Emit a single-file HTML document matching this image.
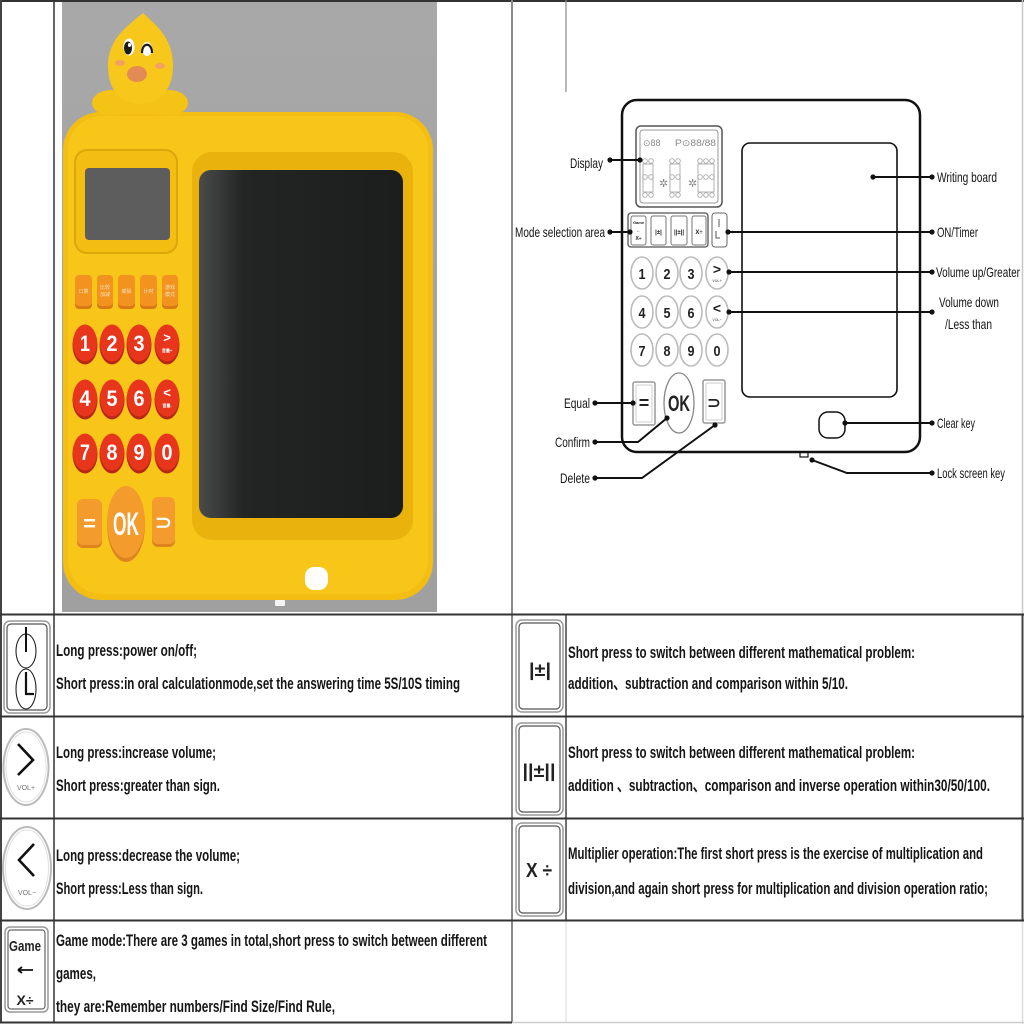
<!DOCTYPE html>
<html><head><meta charset="utf-8"><style>
html,body{margin:0;padding:0;background:#fff;}
svg{display:block}
.t{font-family:"Liberation Sans",sans-serif;font-weight:bold;font-size:17px;fill:#151515}
.l{font-family:"Liberation Sans",sans-serif;font-size:14px;fill:#151515}
.kw{font-family:"Liberation Sans",sans-serif;font-weight:bold;fill:#fff;text-anchor:middle}
.kb{font-family:"Liberation Sans",sans-serif;font-weight:bold;fill:#222;text-anchor:middle}
</style></head><body>
<svg width="1024" height="1024" viewBox="0 0 1024 1024" xmlns="http://www.w3.org/2000/svg">
<defs>
<linearGradient id="scr" x1="0" x2="1" y1="0" y2="0"><stop offset="0" stop-color="#4a4b4b"/><stop offset="0.22" stop-color="#232424"/><stop offset="1" stop-color="#1c1d1d"/></linearGradient>
<linearGradient id="bg" x1="0" x2="0" y1="0" y2="1"><stop offset="0" stop-color="#a8a8a8"/><stop offset="1" stop-color="#a0a0a0"/></linearGradient>
</defs>

<!-- ================= PRODUCT IMAGE ================= -->
<rect x="62" y="2" width="375" height="610" fill="url(#bg)"/>
<!-- body -->
<rect x="63" y="112" width="370" height="488" rx="38" fill="#f3bd12"/>
<rect x="68" y="116" width="360" height="478" rx="34" fill="#f7c619"/>
<!-- duck hands -->
<ellipse cx="111" cy="103" rx="19" ry="13" fill="#f5c216"/>
<ellipse cx="169" cy="103" rx="19" ry="13" fill="#f5c216"/>
<rect x="110" y="98" width="60" height="16" fill="#f5c216"/>
<!-- duck head -->
<path d="M143,13 C152,22 173,36 173,65 C173,92 158,104 140,104 C122,104 108,92 108,65 C108,38 130,24 143,13 Z" fill="#f7c71b"/>
<ellipse cx="129" cy="47" rx="5.5" ry="8.5" fill="#fff"/>
<ellipse cx="128" cy="48" rx="4" ry="6.5" fill="#1b1b1b"/>
<ellipse cx="129.5" cy="45" rx="1.6" ry="2" fill="#fff"/>
<ellipse cx="147" cy="49" rx="5" ry="7" fill="#fff"/>
<path d="M142,53 C142,42 152,42 152,53" fill="none" stroke="#1b1b1b" stroke-width="2.2"/>
<ellipse cx="120" cy="63" rx="5" ry="3" fill="#f0a262"/>
<ellipse cx="160" cy="66" rx="5" ry="3" fill="#f0a262"/>
<ellipse cx="137" cy="74" rx="10" ry="8" fill="#e48a55"/>

<!-- display bezel -->
<rect x="75" y="150" width="102" height="103" rx="12" fill="#f3bd12" stroke="#dca70c" stroke-width="2"/>
<rect x="85" y="168" width="85" height="72" rx="4" fill="#5d5d5d"/>

<!-- writing recess and screen -->
<rect x="192" y="152" width="221" height="388" rx="20" fill="#e9b20d"/>
<rect x="199" y="170" width="204" height="348" rx="12" fill="url(#scr)"/>

<!-- mode buttons -->
<g fill="#d97a17">
<rect x="75" y="277" width="17" height="32" rx="4"/>
<rect x="97" y="277" width="16" height="32" rx="4"/>
<rect x="118" y="277" width="17" height="32" rx="4"/>
<rect x="140" y="277" width="17" height="32" rx="4"/>
<rect x="162" y="277" width="16" height="32" rx="4"/>
</g>
<g fill="#f2921f">
<rect x="75" y="275" width="17" height="31" rx="4"/>
<rect x="97" y="275" width="16" height="31" rx="4"/>
<rect x="118" y="275" width="17" height="31" rx="4"/>
<rect x="140" y="275" width="17" height="31" rx="4"/>
<rect x="162" y="275" width="16" height="31" rx="4"/>
</g>
<g font-family="'Liberation Sans','Noto Sans CJK SC',sans-serif" font-size="5" fill="#fde2b8" text-anchor="middle">
<text x="83.5" y="293">口算</text>
<text x="105" y="289">比较</text><text x="105" y="296">加减</text>
<text x="126.5" y="293">乘除</text>
<text x="148.5" y="293">计时</text>
<text x="170" y="289">游戏</text><text x="170" y="296">模式</text>
</g>

<!-- number keys -->
<g fill="#b82713">
<ellipse cx="85" cy="345" rx="12.5" ry="19.5"/><ellipse cx="112" cy="345" rx="12.5" ry="19.5"/><ellipse cx="139" cy="345" rx="12.5" ry="19.5"/><ellipse cx="167" cy="345" rx="12.5" ry="19.5"/>
<ellipse cx="85" cy="400" rx="12.5" ry="19.5"/><ellipse cx="112" cy="400" rx="12.5" ry="19.5"/><ellipse cx="139" cy="400" rx="12.5" ry="19.5"/><ellipse cx="167" cy="400" rx="12.5" ry="19.5"/>
<ellipse cx="85" cy="454" rx="12.5" ry="19.5"/><ellipse cx="112" cy="454" rx="12.5" ry="19.5"/><ellipse cx="139" cy="454" rx="12.5" ry="19.5"/><ellipse cx="167" cy="454" rx="12.5" ry="19.5"/>
</g>
<g fill="#e8361d">
<ellipse cx="85" cy="343" rx="12" ry="18.5"/><ellipse cx="112" cy="343" rx="12" ry="18.5"/><ellipse cx="139" cy="343" rx="12" ry="18.5"/><ellipse cx="167" cy="343" rx="12" ry="18.5"/>
<ellipse cx="85" cy="398" rx="12" ry="18.5"/><ellipse cx="112" cy="398" rx="12" ry="18.5"/><ellipse cx="139" cy="398" rx="12" ry="18.5"/><ellipse cx="167" cy="398" rx="12" ry="18.5"/>
<ellipse cx="85" cy="452" rx="12" ry="18.5"/><ellipse cx="112" cy="452" rx="12" ry="18.5"/><ellipse cx="139" cy="452" rx="12" ry="18.5"/><ellipse cx="167" cy="452" rx="12" ry="18.5"/>
</g>
<g class="kw" font-size="22">
<text x="85" y="351" textLength="10" lengthAdjust="spacingAndGlyphs">1</text>
<text x="112" y="351" textLength="11" lengthAdjust="spacingAndGlyphs">2</text>
<text x="139" y="351" textLength="11" lengthAdjust="spacingAndGlyphs">3</text>
<text x="85" y="406" textLength="11" lengthAdjust="spacingAndGlyphs">4</text>
<text x="112" y="406" textLength="11" lengthAdjust="spacingAndGlyphs">5</text>
<text x="139" y="406" textLength="11" lengthAdjust="spacingAndGlyphs">6</text>
<text x="85" y="460" textLength="10" lengthAdjust="spacingAndGlyphs">7</text>
<text x="112" y="460" textLength="11" lengthAdjust="spacingAndGlyphs">8</text>
<text x="139" y="460" textLength="11" lengthAdjust="spacingAndGlyphs">9</text>
<text x="167" y="460" textLength="11" lengthAdjust="spacingAndGlyphs">0</text>
</g>
<g class="kw">
<text x="167" y="342" font-size="13">&gt;</text>
<text x="167" y="352" font-size="4">音量+</text>
<text x="167" y="397" font-size="13">&lt;</text>
<text x="167" y="407" font-size="4">音量-</text>
</g>

<!-- bottom keys -->
<rect x="77" y="501" width="25" height="47" rx="6" fill="#dd8420"/>
<rect x="77" y="499" width="25" height="46" rx="6" fill="#f39b2c"/>
<text class="kw" x="89.5" y="531" font-size="22">=</text>
<ellipse cx="126" cy="525" rx="19" ry="37" fill="#dd8420"/>
<ellipse cx="126" cy="522" rx="19" ry="36" fill="#f39b2c"/>
<text class="kw" x="126" y="535" font-size="32" textLength="26" lengthAdjust="spacingAndGlyphs">OK</text>
<rect x="152" y="499" width="23" height="48" rx="6" fill="#dd8420"/>
<rect x="152" y="497" width="23" height="47" rx="6" fill="#f39b2c"/>
<text class="kw" x="163.5" y="529" font-size="20">⊃</text>

<!-- clear key & tab -->
<rect x="305" y="567" width="23" height="23" rx="9" fill="#fffefa"/>
<rect x="275" y="600" width="10" height="6" rx="1" fill="#f4f4f4"/>

<!-- ================= GRID ================= -->
<g stroke-linecap="butt">
<line x1="0" y1="1" x2="1024" y2="1" stroke="#333" stroke-width="2"/>
<line x1="1" y1="0" x2="1" y2="1023" stroke="#444" stroke-width="2"/>
<line x1="54" y1="0" x2="54" y2="1023" stroke="#333" stroke-width="1.5"/>
<line x1="512" y1="0" x2="512" y2="1023" stroke="#8a8a8a" stroke-width="2"/>
<line x1="566" y1="0" x2="566" y2="92" stroke="#888" stroke-width="1.2"/>
<line x1="566" y1="614" x2="566" y2="920" stroke="#444" stroke-width="1.5"/>
<line x1="566" y1="920" x2="566" y2="1022" stroke="#d8d8d8" stroke-width="1"/>
<line x1="1022.5" y1="0" x2="1022.5" y2="614" stroke="#c8c8c8" stroke-width="1.5"/>
<line x1="1022.5" y1="614" x2="1022.5" y2="920" stroke="#444" stroke-width="2"/>
<line x1="1022.5" y1="920" x2="1022.5" y2="1024" stroke="#ddd" stroke-width="1.5"/>
<line x1="0" y1="614.5" x2="1024" y2="614.5" stroke="#333" stroke-width="2"/>
<line x1="0" y1="716.5" x2="1024" y2="716.5" stroke="#333" stroke-width="2"/>
<line x1="0" y1="818.5" x2="1024" y2="818.5" stroke="#333" stroke-width="2"/>
<line x1="0" y1="920.5" x2="1024" y2="920.5" stroke="#333" stroke-width="2"/>
<line x1="0" y1="1022.5" x2="512" y2="1022.5" stroke="#333" stroke-width="2"/>
<line x1="512" y1="1022.5" x2="1024" y2="1022.5" stroke="#ccc" stroke-width="1.5"/>
</g>

<!-- ================= DIAGRAM ================= -->
<g fill="none" stroke="#111">
<rect x="622" y="100" width="298" height="352" rx="15" stroke-width="2.5"/>
<rect x="742" y="143" width="155" height="254" rx="8" stroke-width="1.6"/>
<rect x="819" y="412" width="26" height="26" rx="9" stroke-width="1.5"/>
<rect x="800" y="452" width="8" height="5" stroke-width="1.2"/>
</g>
<!-- display -->
<rect x="636" y="126" width="86" height="81" rx="5" fill="#fff" stroke="#555" stroke-width="1.5"/>
<rect x="640" y="130" width="78" height="73" rx="3" fill="none" stroke="#999" stroke-width="1"/>
<g font-family="'Liberation Sans',sans-serif" font-size="9" fill="#888">
<text x="643" y="146">⊙88</text>
<text x="675" y="146" textLength="41" lengthAdjust="spacingAndGlyphs">P⊙88/88</text>
<text x="659" y="187" font-size="11">✲</text>
<text x="688" y="187" font-size="11">✲</text>
</g>
<g fill="none" stroke="#aaa" stroke-width="0.9">
<ellipse cx="645" cy="161" rx="2.3" ry="2.3"/><ellipse cx="651" cy="161" rx="2.3" ry="2.3"/>
<ellipse cx="645" cy="177" rx="2.3" ry="2.3"/><ellipse cx="651" cy="177" rx="2.3" ry="2.3"/>
<ellipse cx="645" cy="195" rx="2.3" ry="2.3"/><ellipse cx="651" cy="195" rx="2.3" ry="2.3"/>
<ellipse cx="672" cy="161" rx="2.3" ry="2.3"/><ellipse cx="678" cy="161" rx="2.3" ry="2.3"/>
<ellipse cx="672" cy="177" rx="2.3" ry="2.3"/><ellipse cx="678" cy="177" rx="2.3" ry="2.3"/>
<ellipse cx="672" cy="195" rx="2.3" ry="2.3"/><ellipse cx="678" cy="195" rx="2.3" ry="2.3"/>
<ellipse cx="700" cy="161" rx="2.3" ry="2.3"/><ellipse cx="706" cy="161" rx="2.3" ry="2.3"/><ellipse cx="712" cy="161" rx="2.3" ry="2.3"/>
<ellipse cx="700" cy="177" rx="2.3" ry="2.3"/><ellipse cx="706" cy="177" rx="2.3" ry="2.3"/><ellipse cx="712" cy="177" rx="2.3" ry="2.3"/>
<ellipse cx="700" cy="195" rx="2.3" ry="2.3"/><ellipse cx="706" cy="195" rx="2.3" ry="2.3"/><ellipse cx="712" cy="195" rx="2.3" ry="2.3"/>
<rect x="643" y="164" width="10" height="28"/><rect x="670" y="164" width="10" height="28"/><rect x="698" y="164" width="16" height="28"/>
</g>
<!-- mode keys -->
<rect x="628" y="213" width="80" height="34" rx="3" fill="#fff" stroke="#555" stroke-width="1.3"/>
<g fill="#fff" stroke="#777" stroke-width="1">
<rect x="631" y="216" width="15" height="29" rx="2"/>
<rect x="651" y="216" width="15" height="29" rx="2"/>
<rect x="671" y="216" width="16" height="29" rx="2"/>
<rect x="692" y="216" width="14" height="29" rx="2"/>
<rect x="712" y="213" width="15" height="34" rx="3" stroke="#666"/>
</g>
<g class="kb" font-size="6">
<text x="638.5" y="224" font-size="4">Game</text>
<text x="638.5" y="232" font-size="5">←</text>
<text x="638.5" y="240" font-size="5">X÷</text>
<text x="658.5" y="234">|±|</text>
<text x="679" y="234">||±||</text>
<text x="699" y="234">X÷</text>
</g>
<path d="M719,219 V227 M716,231 V238 H720" fill="none" stroke="#555" stroke-width="1"/>
<!-- number keys diagram -->
<g fill="#fff" stroke="#bbb" stroke-width="1.6">
<ellipse cx="642" cy="273" rx="11" ry="16"/><ellipse cx="667" cy="273" rx="11" ry="16"/><ellipse cx="691" cy="273" rx="11" ry="16"/><ellipse cx="717" cy="273" rx="11" ry="16"/>
<ellipse cx="642" cy="312" rx="11" ry="16"/><ellipse cx="667" cy="312" rx="11" ry="16"/><ellipse cx="691" cy="312" rx="11" ry="16"/><ellipse cx="717" cy="312" rx="11" ry="16"/>
<ellipse cx="642" cy="350" rx="11" ry="16"/><ellipse cx="667" cy="350" rx="11" ry="16"/><ellipse cx="691" cy="350" rx="11" ry="16"/><ellipse cx="717" cy="350" rx="11" ry="16"/>
</g>
<g class="kb" font-size="15">
<text x="642" y="279" textLength="7" lengthAdjust="spacingAndGlyphs">1</text>
<text x="667" y="279" textLength="7" lengthAdjust="spacingAndGlyphs">2</text>
<text x="691" y="279" textLength="7" lengthAdjust="spacingAndGlyphs">3</text>
<text x="642" y="318" textLength="7" lengthAdjust="spacingAndGlyphs">4</text>
<text x="667" y="318" textLength="7" lengthAdjust="spacingAndGlyphs">5</text>
<text x="691" y="318" textLength="7" lengthAdjust="spacingAndGlyphs">6</text>
<text x="642" y="356" textLength="7" lengthAdjust="spacingAndGlyphs">7</text>
<text x="667" y="356" textLength="7" lengthAdjust="spacingAndGlyphs">8</text>
<text x="691" y="356" textLength="7" lengthAdjust="spacingAndGlyphs">9</text>
<text x="717" y="356" textLength="7" lengthAdjust="spacingAndGlyphs">0</text>
<text x="717" y="274" font-size="14">&gt;</text>
<text x="717" y="282" font-size="3.5" fill="#777">VOL+</text>
<text x="717" y="313" font-size="14">&lt;</text>
<text x="717" y="321" font-size="3.5" fill="#777">VOL−</text>
</g>
<!-- bottom row diagram -->
<rect x="633" y="382" width="22" height="43" rx="2" fill="#fff" stroke="#999" stroke-width="1.5"/>
<rect x="636" y="385" width="16" height="37" rx="1" fill="none" stroke="#ccc" stroke-width="1"/>
<text class="kb" x="644" y="409" font-size="18" fill="#111">=</text>
<ellipse cx="679" cy="403" rx="15" ry="30" fill="#fff" stroke="#888" stroke-width="1.3"/>
<text class="kb" x="679" y="411" font-size="22" textLength="22" lengthAdjust="spacingAndGlyphs" fill="#111">OK</text>
<rect x="703" y="380" width="22" height="43" rx="2" fill="#fff" stroke="#999" stroke-width="1.5"/>
<rect x="706" y="383" width="16" height="37" rx="1" fill="none" stroke="#ccc" stroke-width="1"/>
<text class="kb" x="714" y="408" font-size="16" fill="#111">⊃</text>

<!-- leader lines -->
<g fill="none" stroke="#111" stroke-width="2">
<polyline points="610,160 640,160"/>
<polyline points="873,177 932,177"/>
<polyline points="610,232 630,232"/>
<polyline points="727,232 932,232"/>
<polyline points="728,272 932,272"/>
<polyline points="728,312 932,312"/>
<polyline points="595,403 633,403"/>
<polyline points="595,442 638,442 667,418"/>
<polyline points="595,478 642,478 715,425"/>
<polyline points="845,423 932,423"/>
<polyline points="812,460 847,473 932,473"/>
</g>
<g fill="#111">
<circle cx="610" cy="160" r="2.6"/><circle cx="640" cy="160" r="2.6"/>
<circle cx="873" cy="177" r="2.6"/><circle cx="932" cy="177" r="2.6"/>
<circle cx="610" cy="232" r="2.6"/><circle cx="630" cy="232" r="2.6"/>
<circle cx="728" cy="232" r="2.6"/><circle cx="932" cy="232" r="2.6"/>
<circle cx="729" cy="272" r="2.6"/><circle cx="932" cy="272" r="2.6"/>
<circle cx="729" cy="312" r="2.6"/><circle cx="932" cy="312" r="2.6"/>
<circle cx="595" cy="403" r="2.6"/><circle cx="633" cy="403" r="2.6"/>
<circle cx="595" cy="442" r="2.6"/><circle cx="667" cy="418" r="2.6"/>
<circle cx="595" cy="478" r="2.6"/><circle cx="715" cy="425" r="2.6"/>
<circle cx="845" cy="423" r="2.6"/><circle cx="932" cy="423" r="2.6"/>
<circle cx="812" cy="460" r="2.6"/><circle cx="932" cy="473" r="2.6"/>
</g>
<g class="l">
<text x="570" y="168" textLength="33" lengthAdjust="spacingAndGlyphs">Display</text>
<text x="515" y="237" textLength="90" lengthAdjust="spacingAndGlyphs">Mode  selection area</text>
<text x="564" y="408" textLength="26" lengthAdjust="spacingAndGlyphs">Equal</text>
<text x="555" y="447" textLength="35" lengthAdjust="spacingAndGlyphs">Confirm</text>
<text x="560" y="483" textLength="30" lengthAdjust="spacingAndGlyphs">Delete</text>
<text x="937" y="182" textLength="60" lengthAdjust="spacingAndGlyphs">Writing board</text>
<text x="937" y="237" textLength="41" lengthAdjust="spacingAndGlyphs">ON/Timer</text>
<text x="936" y="277" textLength="84" lengthAdjust="spacingAndGlyphs">Volume up/Greater</text>
<text x="939" y="307" textLength="60" lengthAdjust="spacingAndGlyphs">Volume down</text>
<text x="945" y="329" textLength="47" lengthAdjust="spacingAndGlyphs">/Less than</text>
<text x="937" y="428" textLength="38" lengthAdjust="spacingAndGlyphs">Clear key</text>
<text x="937" y="478" textLength="68" lengthAdjust="spacingAndGlyphs">Lock screen key</text>
</g>

<!-- ================= TABLE ICONS ================= -->
<!-- row1 left: power/timer key -->
<rect x="4" y="621" width="46" height="92" rx="6" fill="#fff" stroke="#999" stroke-width="1.5"/>
<rect x="7" y="624" width="40" height="86" rx="4" fill="none" stroke="#555" stroke-width="1.2"/>
<g fill="none" stroke="#222" stroke-width="1.1">
<ellipse cx="26" cy="651" rx="10" ry="17"/>
<ellipse cx="26" cy="689" rx="10" ry="20"/>
</g>
<path d="M26,627 V652" stroke="#111" stroke-width="2" fill="none"/>
<path d="M26,672 V694 H34" stroke="#111" stroke-width="2.2" fill="none"/>
<!-- row2 left: vol+ -->
<ellipse cx="26" cy="767" rx="22.5" ry="38" fill="#fff" stroke="#bbb" stroke-width="2"/>
<ellipse cx="26" cy="767" rx="20" ry="35" fill="none" stroke="#e0e0e0" stroke-width="1"/>
<path d="M18,744 L33,760 L18,775" fill="none" stroke="#111" stroke-width="2.6"/>
<text x="26" y="790" font-family="'Liberation Sans',sans-serif" font-size="7" fill="#777" text-anchor="middle">VOL+</text>
<!-- row3 left: vol- -->
<ellipse cx="27" cy="868" rx="24" ry="41" fill="#fff" stroke="#bbb" stroke-width="2"/>
<ellipse cx="27" cy="868" rx="21.5" ry="38" fill="none" stroke="#e0e0e0" stroke-width="1"/>
<path d="M34,844 L19,860 L34,876" fill="none" stroke="#111" stroke-width="2.6"/>
<text x="27" y="895" font-family="'Liberation Sans',sans-serif" font-size="7" fill="#777" text-anchor="middle">VOL−</text>
<!-- row4 left: game key -->
<rect x="5" y="927" width="43" height="85" rx="5" fill="#fff" stroke="#999" stroke-width="1.5"/>
<rect x="8" y="930" width="37" height="79" rx="3" fill="none" stroke="#666" stroke-width="1.2"/>
<text class="kb" x="25" y="951" font-size="15" textLength="32" lengthAdjust="spacingAndGlyphs" fill="#111">Game</text>
<path d="M18,970 H33 M18,970 L22,967 M18,970 L22,973" stroke="#111" stroke-width="1.8" fill="none"/>
<text class="kb" x="25" y="1005" font-size="14" fill="#111">X÷</text>

<!-- right icons -->
<g fill="#fff" stroke="#999" stroke-width="1.5">
<rect x="516" y="620" width="47" height="92" rx="6"/>
<rect x="516" y="723" width="47" height="92" rx="6"/>
<rect x="516" y="823" width="47" height="93" rx="6"/>
</g>
<g fill="none" stroke="#555" stroke-width="1.2">
<rect x="519" y="623" width="41" height="86" rx="4"/>
<rect x="519" y="726" width="41" height="86" rx="4"/>
<rect x="519" y="826" width="41" height="87" rx="4"/>
</g>
<g class="kb" fill="#111">
<text x="540" y="676" font-size="18" textLength="22" lengthAdjust="spacingAndGlyphs">|±|</text>
<text x="539" y="777" font-size="18" textLength="33" lengthAdjust="spacingAndGlyphs">||±||</text>
<text x="539" y="877" font-size="20" textLength="26" lengthAdjust="spacingAndGlyphs">X ÷</text>
</g>

<!-- ================= TABLE TEXT ================= -->
<g class="t">
<text x="56" y="656" textLength="141" lengthAdjust="spacingAndGlyphs">Long press:power on/off;</text>
<text x="56" y="689" textLength="404" lengthAdjust="spacingAndGlyphs">Short press:in oral calculationmode,set the answering time 5S/10S timing</text>
<text x="56" y="758" textLength="160" lengthAdjust="spacingAndGlyphs">Long press:increase volume;</text>
<text x="56" y="791" textLength="164" lengthAdjust="spacingAndGlyphs">Short press:greater than sign.</text>
<text x="56" y="861" textLength="184" lengthAdjust="spacingAndGlyphs">Long press:decrease the volume;</text>
<text x="56" y="894" textLength="147" lengthAdjust="spacingAndGlyphs">Short press:Less than sign.</text>
<text x="56" y="946" textLength="431" lengthAdjust="spacingAndGlyphs">Game mode:There are 3 games in total,short press to switch between different</text>
<text x="56" y="979" textLength="40" lengthAdjust="spacingAndGlyphs">games,</text>
<text x="56" y="1012" textLength="279" lengthAdjust="spacingAndGlyphs">they are:Remember numbers/Find Size/Find Rule,</text>
<text x="568" y="658" textLength="347" lengthAdjust="spacingAndGlyphs">Short press to switch between different mathematical problem:</text>
<text x="568" y="689" textLength="280" lengthAdjust="spacingAndGlyphs">addition、subtraction and comparison within 5/10.</text>
<text x="568" y="758" textLength="347" lengthAdjust="spacingAndGlyphs">Short press to switch between different mathematical problem:</text>
<text x="568" y="791" textLength="422" lengthAdjust="spacingAndGlyphs">addition 、subtraction、comparison and inverse operation within30/50/100.</text>
<text x="568" y="859" textLength="415" lengthAdjust="spacingAndGlyphs">Multiplier operation:The first short press is the exercise of multiplication and</text>
<text x="568" y="894" textLength="420" lengthAdjust="spacingAndGlyphs">division,and again short press for multiplication and division operation ratio;</text>
</g>
</svg>
</body></html>
